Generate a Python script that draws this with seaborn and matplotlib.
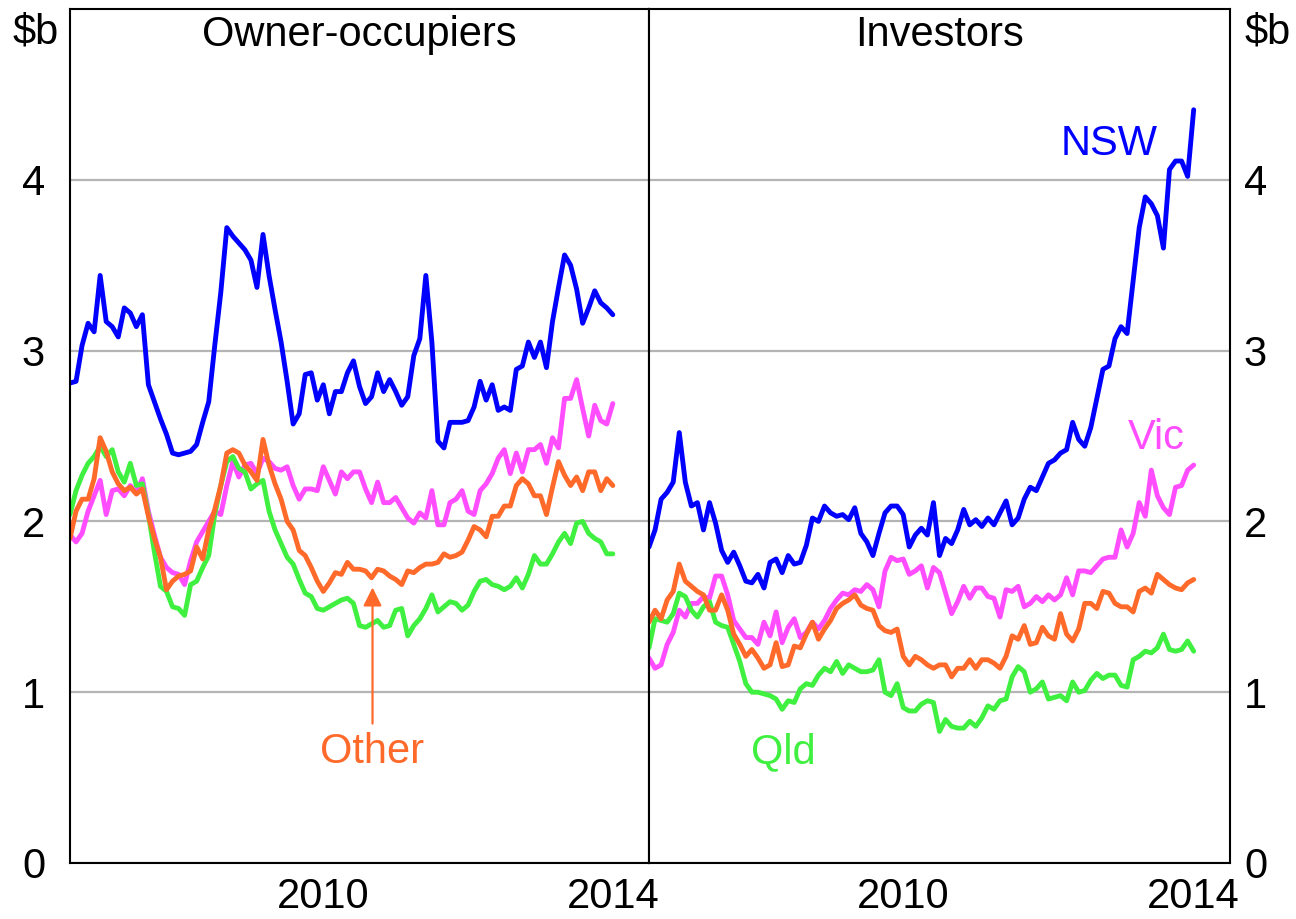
import pandas as pd
import matplotlib.pyplot as plt
import seaborn as sns

# monthly housing loan approvals, $b (Jan 2007 - Jul 2014)
start = '2007-01-01'
n_months = 91
states = ['Vic', 'Qld', 'Other', 'NSW']

# Owner-occupiers
oo_nsw = [2.81, 2.82, 3.03, 3.16, 3.11, 3.44, 3.17, 3.14, 3.08, 3.25, 3.22, 3.14, 3.21, 2.80, 2.70, 2.60,
          2.51, 2.40, 2.39, 2.40, 2.41, 2.45, 2.58, 2.70,
          3.03, 3.34, 3.72, 3.67, 3.63, 3.59, 3.53, 3.37, 3.68, 3.44, 3.24, 3.05, 2.82, 2.57, 2.63, 2.86,
          2.87, 2.71, 2.80, 2.63, 2.76, 2.76, 2.87, 2.94,
          2.79, 2.69, 2.73, 2.87, 2.76, 2.83, 2.76, 2.68, 2.73, 2.97, 3.07, 3.44, 3.05, 2.47, 2.43, 2.58,
          2.58, 2.58, 2.59, 2.67, 2.82, 2.71, 2.80, 2.65,
          2.67, 2.65, 2.89, 2.91, 3.05, 2.96, 3.05, 2.90, 3.17, 3.37, 3.56, 3.50, 3.36, 3.16, 3.25, 3.35,
          3.28, 3.25, 3.21]
oo_vic = [1.92, 1.88, 1.93, 2.06, 2.15, 2.24, 2.04, 2.18, 2.19, 2.15, 2.21, 2.17, 2.25, 2.06, 1.92, 1.79,
          1.73, 1.70, 1.69, 1.63, 1.77, 1.88, 1.94, 2.00,
          2.06, 2.04, 2.21, 2.35, 2.26, 2.33, 2.34, 2.28, 2.37, 2.35, 2.31, 2.30, 2.32, 2.21, 2.13, 2.19,
          2.19, 2.18, 2.32, 2.24, 2.16, 2.29, 2.25, 2.29,
          2.29, 2.19, 2.11, 2.23, 2.11, 2.11, 2.14, 2.08, 2.02, 1.99, 2.05, 2.02, 2.18, 1.98, 1.98, 2.11,
          2.13, 2.18, 2.06, 2.04, 2.18, 2.22, 2.28, 2.37,
          2.42, 2.28, 2.40, 2.29, 2.42, 2.42, 2.45, 2.34, 2.49, 2.43, 2.72, 2.72, 2.83, 2.66, 2.50, 2.68,
          2.59, 2.57, 2.69]
oo_other = [1.90, 2.06, 2.13, 2.13, 2.25, 2.49, 2.41, 2.29, 2.22, 2.18, 2.20, 2.16, 2.19, 2.03, 1.90, 1.79,
            1.60, 1.65, 1.68, 1.69, 1.71, 1.85, 1.78, 1.95,
            2.07, 2.21, 2.40, 2.42, 2.40, 2.33, 2.29, 2.24, 2.48, 2.33, 2.22, 2.13, 2.00, 1.95, 1.83, 1.80,
            1.73, 1.65, 1.59, 1.64, 1.70, 1.69, 1.76, 1.72,
            1.72, 1.71, 1.67, 1.72, 1.71, 1.68, 1.66, 1.63, 1.71, 1.70, 1.73, 1.75, 1.75, 1.76, 1.81, 1.79,
            1.80, 1.82, 1.89, 1.97, 1.95, 1.91, 2.03, 2.03,
            2.09, 2.09, 2.21, 2.25, 2.22, 2.15, 2.15, 2.04, 2.20, 2.35, 2.27, 2.21, 2.26, 2.18, 2.29, 2.29,
            2.18, 2.25, 2.21]
oo_qld = [2.04, 2.18, 2.27, 2.34, 2.38, 2.44, 2.38, 2.42, 2.29, 2.23, 2.34, 2.21, 2.22, 2.04, 1.82, 1.62,
          1.59, 1.50, 1.49, 1.45, 1.63, 1.65, 1.73, 1.80,
          2.04, 2.21, 2.35, 2.38, 2.31, 2.29, 2.19, 2.22, 2.24, 2.06, 1.95, 1.87, 1.79, 1.75, 1.66, 1.58,
          1.56, 1.49, 1.48, 1.50, 1.52, 1.54, 1.55, 1.52,
          1.39, 1.38, 1.40, 1.42, 1.38, 1.39, 1.48, 1.49, 1.33, 1.39, 1.43, 1.49, 1.57, 1.47, 1.50, 1.53,
          1.52, 1.48, 1.51, 1.59, 1.65, 1.66, 1.63, 1.62,
          1.60, 1.62, 1.67, 1.61, 1.69, 1.80, 1.75, 1.75, 1.81, 1.88, 1.93, 1.87, 1.99, 2.00, 1.93, 1.90,
          1.88, 1.81, 1.81]

# Investors
inv_nsw = [1.85, 1.95, 2.13, 2.17, 2.23, 2.52, 2.23, 2.09, 2.11, 1.95, 2.11, 1.99, 1.83, 1.76, 1.82, 1.74,
           1.65, 1.64, 1.69, 1.61, 1.76, 1.78, 1.70, 1.80,
           1.75, 1.76, 1.86, 2.02, 2.00, 2.09, 2.05, 2.03, 2.04, 2.01, 2.08, 1.93, 1.88, 1.80, 1.93, 2.05,
           2.09, 2.09, 2.04, 1.85, 1.92, 1.96, 1.92, 2.11,
           1.80, 1.90, 1.87, 1.95, 2.07, 1.98, 2.01, 1.97, 2.02, 1.98, 2.05, 2.12, 1.98, 2.02, 2.13, 2.20,
           2.18, 2.26, 2.34, 2.36, 2.40, 2.42, 2.58, 2.48,
           2.44, 2.55, 2.72, 2.89, 2.91, 3.07, 3.14, 3.10, 3.41, 3.72, 3.90, 3.86, 3.79, 3.60, 4.06, 4.11,
           4.11, 4.02, 4.41]
inv_vic = [1.20, 1.14, 1.16, 1.28, 1.35, 1.48, 1.44, 1.52, 1.52, 1.56, 1.55, 1.68, 1.68, 1.57, 1.42, 1.37,
           1.32, 1.32, 1.28, 1.41, 1.33, 1.47, 1.29, 1.38,
           1.43, 1.32, 1.35, 1.41, 1.37, 1.42, 1.49, 1.54, 1.58, 1.57, 1.60, 1.59, 1.63, 1.60, 1.50, 1.71,
           1.79, 1.77, 1.78, 1.69, 1.71, 1.74, 1.61, 1.73,
           1.70, 1.58, 1.46, 1.53, 1.62, 1.55, 1.61, 1.61, 1.56, 1.55, 1.44, 1.60, 1.59, 1.62, 1.50, 1.52,
           1.56, 1.53, 1.57, 1.54, 1.57, 1.67, 1.57, 1.71,
           1.71, 1.70, 1.74, 1.78, 1.79, 1.79, 1.95, 1.85, 1.93, 2.11, 2.03, 2.30, 2.15, 2.08, 2.04, 2.20,
           2.21, 2.30, 2.33]
inv_other = [1.41, 1.48, 1.43, 1.54, 1.59, 1.75, 1.65, 1.62, 1.59, 1.57, 1.48, 1.48, 1.57, 1.48, 1.34, 1.28,
             1.21, 1.25, 1.20, 1.14, 1.16, 1.29, 1.15, 1.16,
             1.27, 1.26, 1.34, 1.41, 1.31, 1.37, 1.42, 1.49, 1.52, 1.54, 1.57, 1.51, 1.49, 1.48, 1.39, 1.36,
             1.35, 1.37, 1.21, 1.16, 1.21, 1.19, 1.16, 1.14,
             1.16, 1.16, 1.09, 1.14, 1.14, 1.19, 1.14, 1.19, 1.19, 1.17, 1.14, 1.21, 1.33, 1.31, 1.39, 1.28,
             1.29, 1.38, 1.33, 1.31, 1.46, 1.34, 1.30, 1.37,
             1.52, 1.52, 1.49, 1.59, 1.58, 1.52, 1.50, 1.50, 1.47, 1.59, 1.61, 1.58, 1.69, 1.66, 1.63, 1.61,
             1.60, 1.64, 1.66]
inv_qld = [1.26, 1.43, 1.42, 1.41, 1.46, 1.58, 1.56, 1.48, 1.44, 1.50, 1.53, 1.41, 1.39, 1.38, 1.28, 1.18,
           1.05, 1.00, 1.00, 0.99, 0.98, 0.96, 0.90, 0.95,
           0.94, 1.02, 1.05, 1.04, 1.10, 1.14, 1.12, 1.18, 1.11, 1.16, 1.14, 1.12, 1.12, 1.13, 1.19, 1.00,
           0.98, 1.05, 0.91, 0.89, 0.89, 0.93, 0.95, 0.94,
           0.77, 0.84, 0.80, 0.79, 0.79, 0.83, 0.80, 0.85, 0.92, 0.90, 0.95, 0.96, 1.09, 1.15, 1.12, 1.00,
           1.02, 1.06, 0.96, 0.97, 0.98, 0.95, 1.06, 1.00,
           1.01, 1.07, 1.11, 1.08, 1.10, 1.10, 1.04, 1.03, 1.19, 1.21, 1.24, 1.23, 1.26, 1.34, 1.25, 1.24,
           1.25, 1.30, 1.24]

colours = {'NSW': '#0000FF', 'Vic': '#FF4DFF', 'Qld': '#40F040', 'Other': '#FF6A2B'}

dates = pd.date_range(start, periods=n_months, freq='MS')
year_frac = dates.year + (dates.month - 1) / 12

frames = []
for panel, series in [('Owner-occupiers', {'NSW': oo_nsw, 'Vic': oo_vic, 'Other': oo_other, 'Qld': oo_qld}),
                      ('Investors', {'NSW': inv_nsw, 'Vic': inv_vic, 'Other': inv_other, 'Qld': inv_qld})]:
    for st, vals in series.items():
        frames.append(pd.DataFrame({'panel': panel, 'state': st, 'year': year_frac, 'value': vals}))
df = pd.concat(frames, ignore_index=True)

sns.set_style('white')
plt.rcParams['font.family'] = ['Liberation Sans', 'DejaVu Sans']
plt.rcParams['text.color'] = 'black'
plt.rcParams['xtick.color'] = 'black'
plt.rcParams['ytick.color'] = 'black'

fig = plt.figure(figsize=(12.96, 9.19), dpi=100)
ax1 = fig.add_axes([70 / 1296, 56 / 919, 579 / 1296, 854 / 919])
ax2 = fig.add_axes([649 / 1296, 56 / 919, 581 / 1296, 854 / 919])

fs = 30
for ax, panel in [(ax1, 'Owner-occupiers'), (ax2, 'Investors')]:
    sub = df[df['panel'] == panel]
    sns.lineplot(data=sub, x='year', y='value', hue='state', hue_order=states, palette=colours,
                 estimator=None, linewidth=3.5, legend=False, ax=ax)
    ax.set_xlim(2007, 2015)
    ax.set_ylim(0, 5)
    ax.set_xlabel('')
    ax.set_ylabel('')
    ax.set_yticks([0, 1, 2, 3, 4])
    ax.yaxis.grid(True, color='#b4b4b4', linewidth=1.6)
    ax.set_axisbelow(True)
    ax.set_xticks(range(2007, 2016))
    ax.set_xticklabels([])
    ax.set_xticks([2010.5, 2014.5], minor=True)
    ax.set_xticklabels(['2010', '2014'], minor=True, fontsize=fs)
    ax.tick_params(axis='x', which='major', direction='in', length=13, width=1.3, color='black')
    ax.tick_params(axis='x', which='minor', length=0, pad=10)
    ax.tick_params(axis='y', length=0, labelsize=fs)
    for s in ax.spines.values():
        s.set_color('black')
        s.set_linewidth(1.5)
    ax.text(0.5, 0.97, panel, transform=ax.transAxes, ha='center', va='center', fontsize=fs)

ax1.tick_params(axis='y', pad=18)
ax2.yaxis.tick_right()
ax2.tick_params(axis='y', pad=10, length=0)

fig.text(36 / 1296, 1 - 32 / 919, '$b', ha='center', va='center', fontsize=fs)
fig.text(1268 / 1296, 1 - 32 / 919, '$b', ha='center', va='center', fontsize=fs)

# series labels
ax2.text(2014.0, 4.21, 'NSW', color=colours['NSW'], ha='right', va='center', fontsize=fs)
ax2.text(2013.98, 2.49, 'Vic', color=colours['Vic'], ha='center', va='center', fontsize=fs)
ax2.text(2008.85, 0.65, 'Qld', color=colours['Qld'], ha='center', va='center', fontsize=fs)
ax1.text(2011.18, 0.65, 'Other', color=colours['Other'], ha='center', va='center', fontsize=fs)
ax1.annotate('', xy=(2011.18, 1.63), xytext=(2011.18, 0.80),
             arrowprops=dict(arrowstyle='-|>', color=colours['Other'], lw=1.6, mutation_scale=28))

fig.savefig('out.png', dpi=100)
